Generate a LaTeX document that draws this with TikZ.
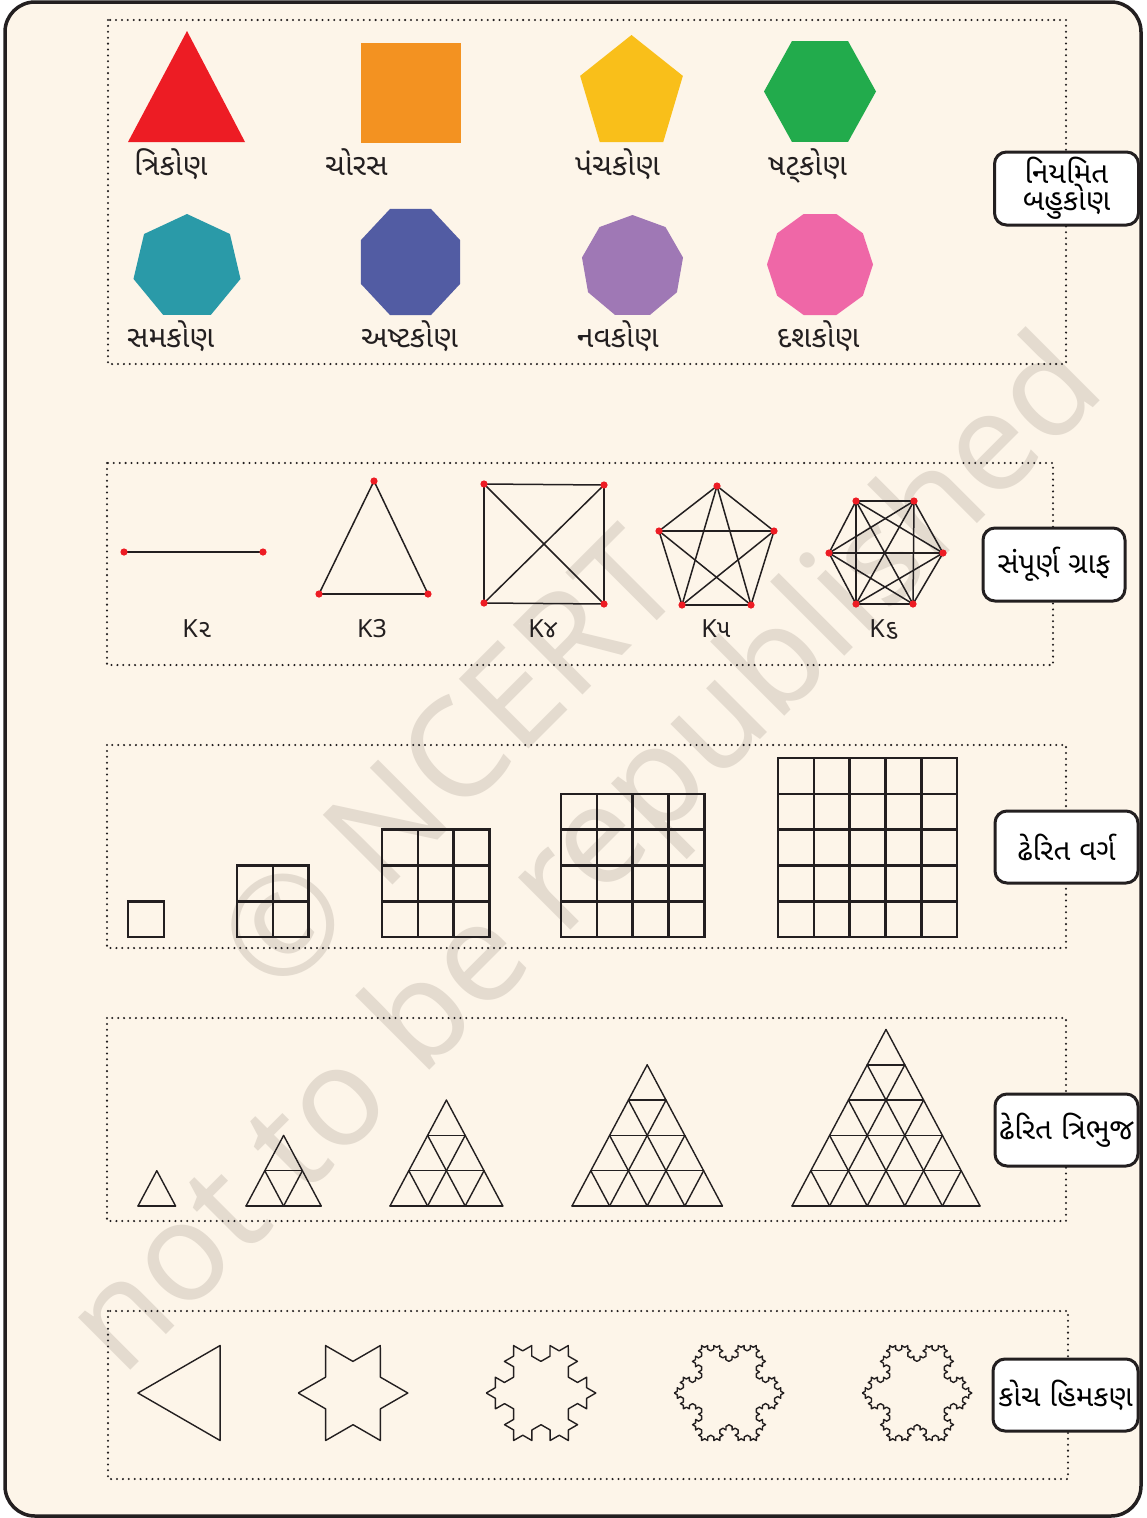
\documentclass[tikz,border=0pt]{standalone}
\usepackage{fontspec}
\setmainfont{Noto Sans}
\newfontfamily\guj[Script=Gujarati]{Noto Sans Gujarati UI}
\usetikzlibrary{decorations.fractals}
\definecolor{cream}{HTML}{FDF5E9}
\definecolor{framec}{HTML}{231F20}
\definecolor{wmark}{HTML}{E4DBCF}
\definecolor{pred}{HTML}{ED1C24}
\definecolor{porange}{HTML}{F39221}
\definecolor{pyellow}{HTML}{F9BF1A}
\definecolor{pgreen}{HTML}{22AB4C}
\definecolor{pteal}{HTML}{2A9AA8}
\definecolor{pblue}{HTML}{525CA3}
\definecolor{ppurple}{HTML}{9F78B5}
\definecolor{ppink}{HTML}{EF67A7}
\definecolor{vred}{HTML}{ED1C24}

% color, cx, cy, rx, ry, n, start angle
\newcommand\regpoly[7]{%
  \fill[#1] ([shift={(#2,#3)}]#7:#4 and #5)
    \foreach \k [evaluate=\k as \ang using #7+\k*360/#6] in {1,...,#6} { -- ([shift={(#2,#3)}]\ang:#4 and #5)} -- cycle;}

% stacked triangles: left x, rows
\newcommand\tristack[2]{%
  \foreach \j in {0,...,\numexpr#2-1\relax}{
    \draw[thinl] (#1+\j*18.8,1206-\j*35.3) -- (#1+#2*37.6-\j*18.8,1206-\j*35.3);
  }
  \foreach \k in {0,...,\numexpr#2-1\relax}{
    \draw[thinl] (#1+\k*37.6,1206) -- (#1+\k*37.6+#2*18.8-\k*18.8,1206-#2*35.3+\k*35.3);
    \draw[thinl] (#1+\k*37.6+37.6,1206) -- (#1+\k*18.8+18.8,1206-\k*35.3-35.3);
  }
}

% square grids: left x, n
\newcommand\sqgrid[2]{%
  \foreach \i in {0,...,#2}{
    \draw[gridl] (#1+\i*35.8,937) -- (#1+\i*35.8,937-#2*35.8);
    \draw[gridl] (#1,937-\i*35.8) -- (#1+#2*35.8,937-\i*35.8);
  }
}

\begin{document}
\begin{tikzpicture}[x=1pt,y=-1pt,
  framel/.style={draw=framec, line width=3.5, rounded corners=30},
  dotbox/.style={draw=framec, line width=2.3, dash pattern=on 0pt off 5.9pt, line cap=round},
  lbl/.style={draw=framec, line width=3, rounded corners=12, fill=white, align=center,
     minimum width=144, minimum height=73, inner sep=1, font=\guj\fontsize{29.5}{33}\selectfont},
  plab/.style={anchor=base west, inner sep=0, font=\guj\fontsize{30}{34}\selectfont, text=framec},
  klab/.style={anchor=base, inner sep=0, font=\fontsize{25}{28}\selectfont, text=framec},
  wm/.style={rotate=45, text=wmark, font=\fontsize{138}{140}\selectfont, inner sep=0},
  edge/.style={draw=framec, line width=1.5},
  thinl/.style={draw=framec, line width=1.4, line cap=round},
  gridl/.style={draw=framec, line width=2.6, line cap=rect},
  koch/.style={draw=framec, line width=1.4, line join=round},
]
\useasboundingbox (0,0) rectangle (1147,1518);
\fill[white] (0,0) rectangle (1147,1518);
\path[framel, fill=cream] (5,2) rectangle (1141,1516);

% watermark
\node[wm] (wm1) at (448,760) {© NCERT};
\node[wm] (wm2) at (590,860) {not to be republished};

% dotted boxes
\draw[dotbox] (108,20) rectangle (1066,364);
\draw[dotbox] (107,463) rectangle (1053,665);
\draw[dotbox] (107,745) rectangle (1066,948);
\draw[dotbox] (107,1018) rectangle (1066,1221);
\draw[dotbox] (108,1311) rectangle (1068,1479);

% regular polygons
\fill[pred] (128,142) -- (245,142) -- (187,31) -- cycle;
\fill[porange] (361,43) rectangle (461,143);
\regpoly{pyellow}{631.5}{94.2}{54}{59.2}{5}{-90}
\regpoly{pgreen}{820}{91.5}{56}{58.3}{6}{0}
\regpoly{pteal}{187}{267.1}{54.9}{53.1}{7}{-90}
\regpoly{pblue}{410.5}{262}{53.6}{57.4}{8}{22.5}
\regpoly{ppurple}{632.5}{266.5}{51.3}{51.5}{9}{-90}
\regpoly{ppink}{820}{264.5}{53}{53.1}{10}{0}

\node[plab] (l3) at (134,175) {ત્રિકોણ};
\node[plab] (l4) at (325,175) {ચોરસ};
\node[plab] (l5) at (575,175) {પંચકોણ};
\node[plab] (l6) at (768,175) {ષટ્કોણ};
\node[plab] (l7) at (127,347) {સમકોણ};
\node[plab] (l8) at (361,347) {અષ્ટકોણ};
\node[plab] (l9) at (577,347) {નવકોણ};
\node[plab] (l10) at (777,347) {દશકોણ};

% complete graphs
\coordinate (a1) at (124,552); \coordinate (a2) at (263,552);
\coordinate (b1) at (374,481); \coordinate (b2) at (319,594); \coordinate (b3) at (428,594);
\coordinate (c1) at (484,484); \coordinate (c2) at (604,485); \coordinate (c3) at (604,604); \coordinate (c4) at (484,603);
\coordinate (d1) at (717,486); \coordinate (d2) at (774,531); \coordinate (d3) at (751,605); \coordinate (d4) at (682,605); \coordinate (d5) at (659,531);
\coordinate (e1) at (856,501); \coordinate (e2) at (914,501); \coordinate (e3) at (943,553); \coordinate (e4) at (913,604); \coordinate (e5) at (856,604); \coordinate (e6) at (829,553);

\draw[edge] (a1) -- (a2);
\foreach \u/\v in {1/2,2/3,3/1} \draw[edge] (b\u) -- (b\v);
\foreach \u/\v in {1/2,1/3,1/4,2/3,2/4,3/4} \draw[edge] (c\u) -- (c\v);
\foreach \u/\v in {1/2,1/3,1/4,1/5,2/3,2/4,2/5,3/4,3/5,4/5} \draw[edge] (d\u) -- (d\v);
\foreach \u/\v in {1/2,1/3,1/4,1/5,1/6,2/3,2/4,2/5,2/6,3/4,3/5,3/6,4/5,4/6,5/6} \draw[edge] (e\u) -- (e\v);
\foreach \p in {a1,a2,b1,b2,b3,c1,c2,c3,c4,d1,d2,d3,d4,d5,e1,e2,e3,e4,e5,e6}
  \fill[vred] (\p) circle (3.6);

\node[klab] (kl2) at (197,637) {K{\guj ૨}};
\node[klab] (kl3) at (372,637) {K3};
\node[klab] (kl4) at (543,637) {K{\guj ૪}};
\node[klab] (kl5) at (716,637) {K{\guj ૫}};
\node[klab] (kl6) at (884,637) {K{\guj ૬}};

% stacked squares
\sqgrid{128}{1}
\sqgrid{237}{2}
\sqgrid{382}{3}
\sqgrid{561}{4}
\sqgrid{778}{5}

% stacked triangles
\tristack{138}{1}
\tristack{246}{2}
\tristack{390}{3}
\tristack{572}{4}
\tristack{792}{5}

% Koch snowflakes
\foreach \n/\cx in {0/192.7,1/353,2/541,3/729,4/917}{
  \path (\cx,1393) ++(-54.8,0) coordinate (s\n L) ++(82.2,-47.5) coordinate (s\n T) ++(0,95) coordinate (s\n B);
}
\draw[koch] (s0L) -- (s0T) -- (s0B) -- cycle;
\draw[koch, decoration=Koch snowflake] decorate{ (s1L) -- (s1T) -- (s1B) -- (s1L) };
\draw[koch, decoration=Koch snowflake] decorate{ decorate{ (s2L) -- (s2T) -- (s2B) -- (s2L) } };
\draw[koch, decoration=Koch snowflake] decorate{ decorate{ decorate{ (s3L) -- (s3T) -- (s3B) -- (s3L) } } };
\draw[koch, decoration=Koch snowflake] decorate{ decorate{ decorate{ (s4L) -- (s4T) -- (s4B) -- (s4L) } } };

% labels
\node[lbl] (t1) at (1066.5,188.5) {નિયમિત\\[-6pt]બહુકોણ};
\node[lbl, minimum width=142] (t2) at (1054,564.5) {સંપૂર્ણ ગ્રાફ};
\node[lbl, minimum width=143, minimum height=72] (t3) at (1066.5,847) {ઢેરિત વર્ગ};
\node[lbl, minimum width=143, minimum height=72] (t4) at (1066.5,1130) {ઢેરિત ત્રિભુજ};
\node[lbl, minimum width=145, minimum height=72] (t5) at (1065.5,1395) {કોચ હિમકણ};
\end{tikzpicture}
\end{document}
